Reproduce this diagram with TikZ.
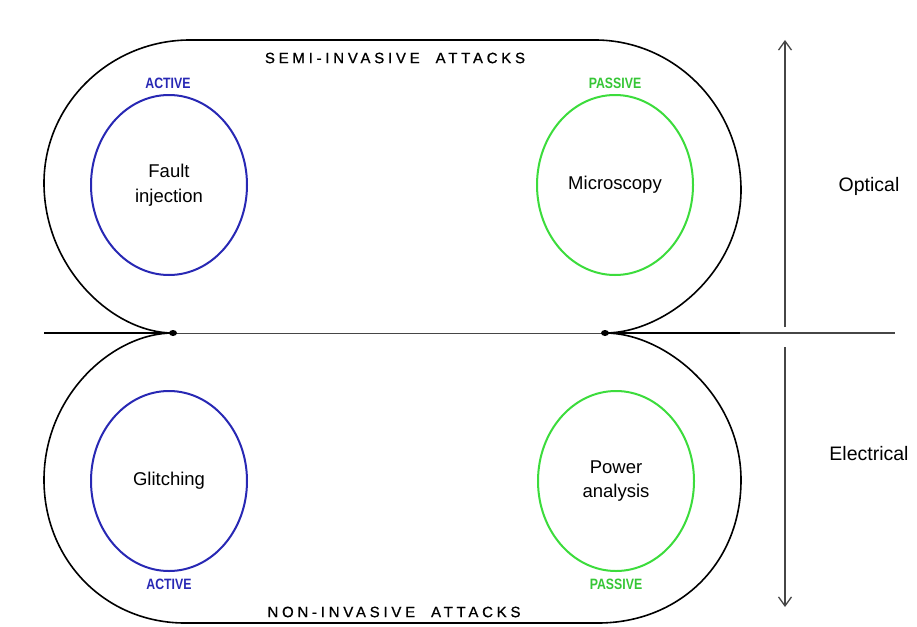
\documentclass[tikz,border=0pt]{standalone}
\usepackage{fontspec}
\usepackage{graphicx}
\setmainfont{Liberation Sans}
\usetikzlibrary{shapes.geometric,arrows.meta}
\definecolor{actblue}{RGB}{40,40,180}
\definecolor{pasgreen}{RGB}{60,220,60}
\definecolor{linegray}{RGB}{70,70,70}
\begin{document}
\begin{tikzpicture}[x=1pt,y=-1pt,
  outline/.style={line width=1.6pt, black},
  activecirc/.style={ellipse, draw=actblue, line width=2pt, minimum width=156pt, minimum height=180pt, inner sep=0pt, align=center, font=\fontsize{18.5}{24.5}\selectfont},
  passivecirc/.style={activecirc, draw=pasgreen},
  tag/.style={font=\fontsize{15}{15}\selectfont\bfseries, inner sep=0pt},
  acttag/.style={tag, text=actblue},
  pastag/.style={tag, text=pasgreen!90!black},
  title/.style={font=\fontsize{15}{15}\selectfont\addfontfeature{LetterSpace=25,FakeBold=0.8}, inner sep=0pt},
  side/.style={font=\fontsize{19.5}{19.5}\selectfont, inner sep=0pt, anchor=base},
  arr/.style={line width=1.3pt, linegray, -{Straight Barb[length=9pt,width=13pt,line width=1.3pt]}}
]
\useasboundingbox (0,0) rectangle (917,626);
\fill[white] (0,0) rectangle (917,626);

% cusp points and line ends
\coordinate (cL) at (173,333);
\coordinate (cR) at (605,333);
\coordinate (hl) at (44,333);
\coordinate (hm) at (740,333);
\coordinate (hr) at (895,333);

% top stadium (semi-invasive)
\draw[outline] (cL) .. controls (113,333) and (44,268) .. (44,183)
  .. controls (44,104) and (110,40) .. (190,40) -- (595,40)
  .. controls (675,40) and (741,107) .. (741,190)
  .. controls (741,272) and (665,333) .. (cR);

% bottom stadium (non-invasive)
\draw[outline] (cL) .. controls (113,333) and (44,395) .. (44,480)
  .. controls (44,560) and (105,623) .. (185,623) -- (598,623)
  .. controls (678,623) and (741,565) .. (741,480)
  .. controls (741,395) and (665,333) .. (cR);

% horizontal divider
\draw[line width=2pt] (hl) -- (cL);
\draw[line width=1pt, linegray] (cL) -- (cR);
\draw[line width=2pt] (cR) -- (hm);
\draw[line width=1.5pt, linegray] (hm) -- (hr);
\fill (cL) ellipse [x radius=4pt, y radius=3pt];
\fill (cR) ellipse [x radius=4pt, y radius=3pt];

% circles
\node[activecirc] (fault) at (169,185) {Fault\\injection};
\node[passivecirc] (micro) at (615,185) {Microscopy};
\node[activecirc] (glitch) at (169,481) {Glitching};
\node[passivecirc] (power) at (616,481) {Power\\analysis};

% tags
\node[acttag] (act1) at (168,83) {\scalebox{0.82}[1]{ACTIVE}};
\node[pastag] (pas1) at (615,83) {\scalebox{0.82}[1]{PASSIVE}};
\node[acttag] (act2) at (169,584) {\scalebox{0.82}[1]{ACTIVE}};
\node[pastag] (pas2) at (616,584) {\scalebox{0.82}[1]{PASSIVE}};

% titles
\node[title] (semi) at (395,58) {SEMI-INVASIVE\hspace{8pt} ATTACKS};
\node[title] (non) at (394,612) {NON-INVASIVE\hspace{8pt} ATTACKS};

% side arrows
\coordinate (at) at (785,40);
\coordinate (ab) at (785,327);
\coordinate (bt) at (785,347);
\coordinate (bb) at (785,607);
\draw[arr] (ab) -- (at);
\draw[arr] (bt) -- (bb);

\node[side] (opt) at (869,191) {Optical};
\node[side] (elec) at (869,460) {Electrical};
\end{tikzpicture}
\end{document}
